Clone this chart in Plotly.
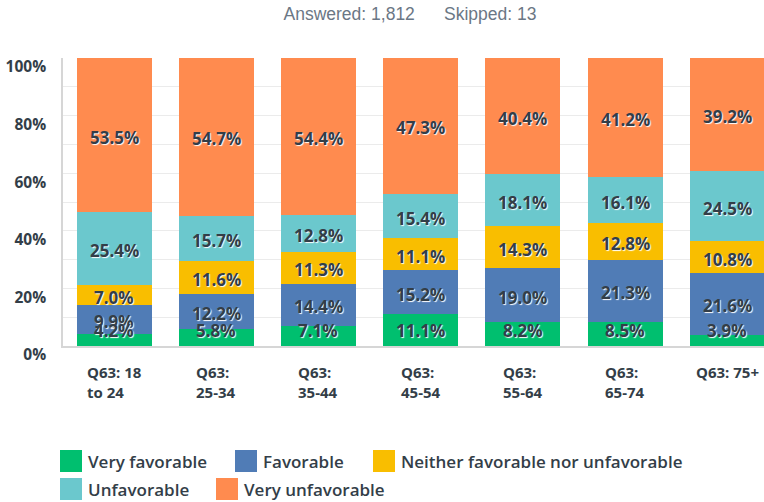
import plotly.graph_objects as go

# Age groups (x categories) and their wrapped axis labels
categories = ["Q63: 18 to 24", "Q63: 25-34", "Q63: 35-44", "Q63: 45-54",
              "Q63: 55-64", "Q63: 65-74", "Q63: 75+"]
category_labels = ["Q63: 18<br>to 24", "Q63:<br>25-34", "Q63:<br>35-44", "Q63:<br>45-54",
                   "Q63:<br>55-64", "Q63:<br>65-74", "Q63: 75+"]

# Share of respondents per answer (percent), stacked bottom to top
very_favorable = [4.2, 5.8, 7.1, 11.1, 8.2, 8.5, 3.9]
favorable = [9.9, 12.2, 14.4, 15.2, 19.0, 21.3, 21.6]
neither = [7.0, 11.6, 11.3, 11.1, 14.3, 12.8, 10.8]
unfavorable = [25.4, 15.7, 12.8, 15.4, 18.1, 16.1, 24.5]
very_unfavorable = [53.5, 54.7, 54.4, 47.3, 40.4, 41.2, 39.2]

series_names = ["Very favorable", "Favorable", "Neither favorable nor unfavorable",
                "Unfavorable", "Very unfavorable"]
series_values = [very_favorable, favorable, neither, unfavorable, very_unfavorable]
series_colors = ["#00BF6F", "#507CB6", "#F9BE00", "#6BC8CD", "#FF8B4F"]

y_tick_values = [0, 20, 40, 60, 80, 100]
y_tick_labels = ["0%", "20%", "40%", "60%", "80%", "100%"]

answered = 1812
skipped = 13

TEXT = "#333E48"
W, H = 764, 502
L, R, T, B = 63, 0, 58, 156
PW, PH = W - L - R, H - T - B

fig = go.Figure()

# Stacked bars
for name, vals, color in zip(series_names, series_values, series_colors):
    fig.add_trace(go.Bar(
        x=categories, y=vals, name=name,
        marker=dict(color=color, line=dict(width=0)),
        showlegend=False, hoverinfo="x+y+name",
    ))

# Value labels, centred in each segment (kept clear of the baseline);
# lower segments are drawn last so their labels sit on top
label_font = dict(family="Open Sans", size=17, weight=700, color=TEXT,
                  shadow="1px 1px 1px #ffffff")
bases = []
running = [0.0] * len(categories)
for vals in series_values:
    bases.append(list(running))
    running = [b + v for b, v in zip(running, vals)]
for vals, base in reversed(list(zip(series_values, bases))):
    for cat, b, v in zip(categories, base, vals):
        fig.add_annotation(
            x=cat, xref="x", y=max(b + v / 2, 6.0), yref="y",
            yanchor="middle", yshift=-2,
            text=f"{v:.1f}%", showarrow=False, font=label_font,
        )

# Category labels under each bar (lines left-aligned, block centred)
for cat, lab in zip(categories, category_labels):
    fig.add_annotation(
        x=cat, xref="x", y=0, yref="paper", yanchor="top", yshift=-14,
        text=lab, showarrow=False, align="left", xanchor="center",
        font=dict(family="Open Sans", size=15, weight=700, color=TEXT),
    )

# Legend: colour swatches with labels, two rows
legend_rows = [[0, 1, 2], [3, 4]]
legend_x = [[60, 235, 373], [60, 216]]
legend_y = [461, 489]
for row, xs, yc in zip(legend_rows, legend_x, legend_y):
    for idx, px in zip(row, xs):
        fig.add_shape(
            type="rect", xref="paper", yref="paper",
            x0=(px - L) / PW, x1=(px + 22 - L) / PW,
            y0=(H - B - (yc + 11)) / PH, y1=(H - B - (yc - 11)) / PH,
            fillcolor=series_colors[idx], line=dict(width=0),
        )
        fig.add_annotation(
            x=(px + 26 - L) / PW, xref="paper", xanchor="left",
            y=(H - B - yc) / PH, yref="paper", yanchor="middle",
            text=series_names[idx], showarrow=False,
            font=dict(family="Open Sans", size=17, weight=600, color=TEXT),
        )

gap = "\u00a0" * 6
fig.update_layout(
    width=W, height=H,
    margin=dict(l=L, r=R, t=T, b=B),
    paper_bgcolor="white", plot_bgcolor="white",
    barmode="stack", bargap=0.266,
    title=dict(
        text=f"Answered: {answered:,}{gap}Skipped: {skipped}",
        x=410 / W, xanchor="center", y=1 - 14 / H, yanchor="middle",
        font=dict(family="Liberation Sans", size=17.5, color="#6B7785"),
    ),
    xaxis=dict(
        type="category", range=[-0.5, 6.36],
        showticklabels=False, ticks="",
        showline=True, linecolor="#D6D6D6", linewidth=2,
        showgrid=False, zeroline=False, fixedrange=True,
    ),
    yaxis=dict(
        range=[0, 100], tickvals=y_tick_values, ticktext=y_tick_labels,
        ticks="", ticklabelshift=9, ticklabelstandoff=12,
        tickfont=dict(family="Open Sans", size=15.5, weight=700, color=TEXT),
        showline=True, linecolor="#D6D6D6", linewidth=1.5,
        showgrid=True, gridcolor="#EBEBEB", gridwidth=1,
        minor=dict(dtick=10, showgrid=True, gridcolor="#EBEBEB", gridwidth=1),
        zeroline=False, fixedrange=True,
    ),
    showlegend=False,
)

fig.write_html("out.html")
